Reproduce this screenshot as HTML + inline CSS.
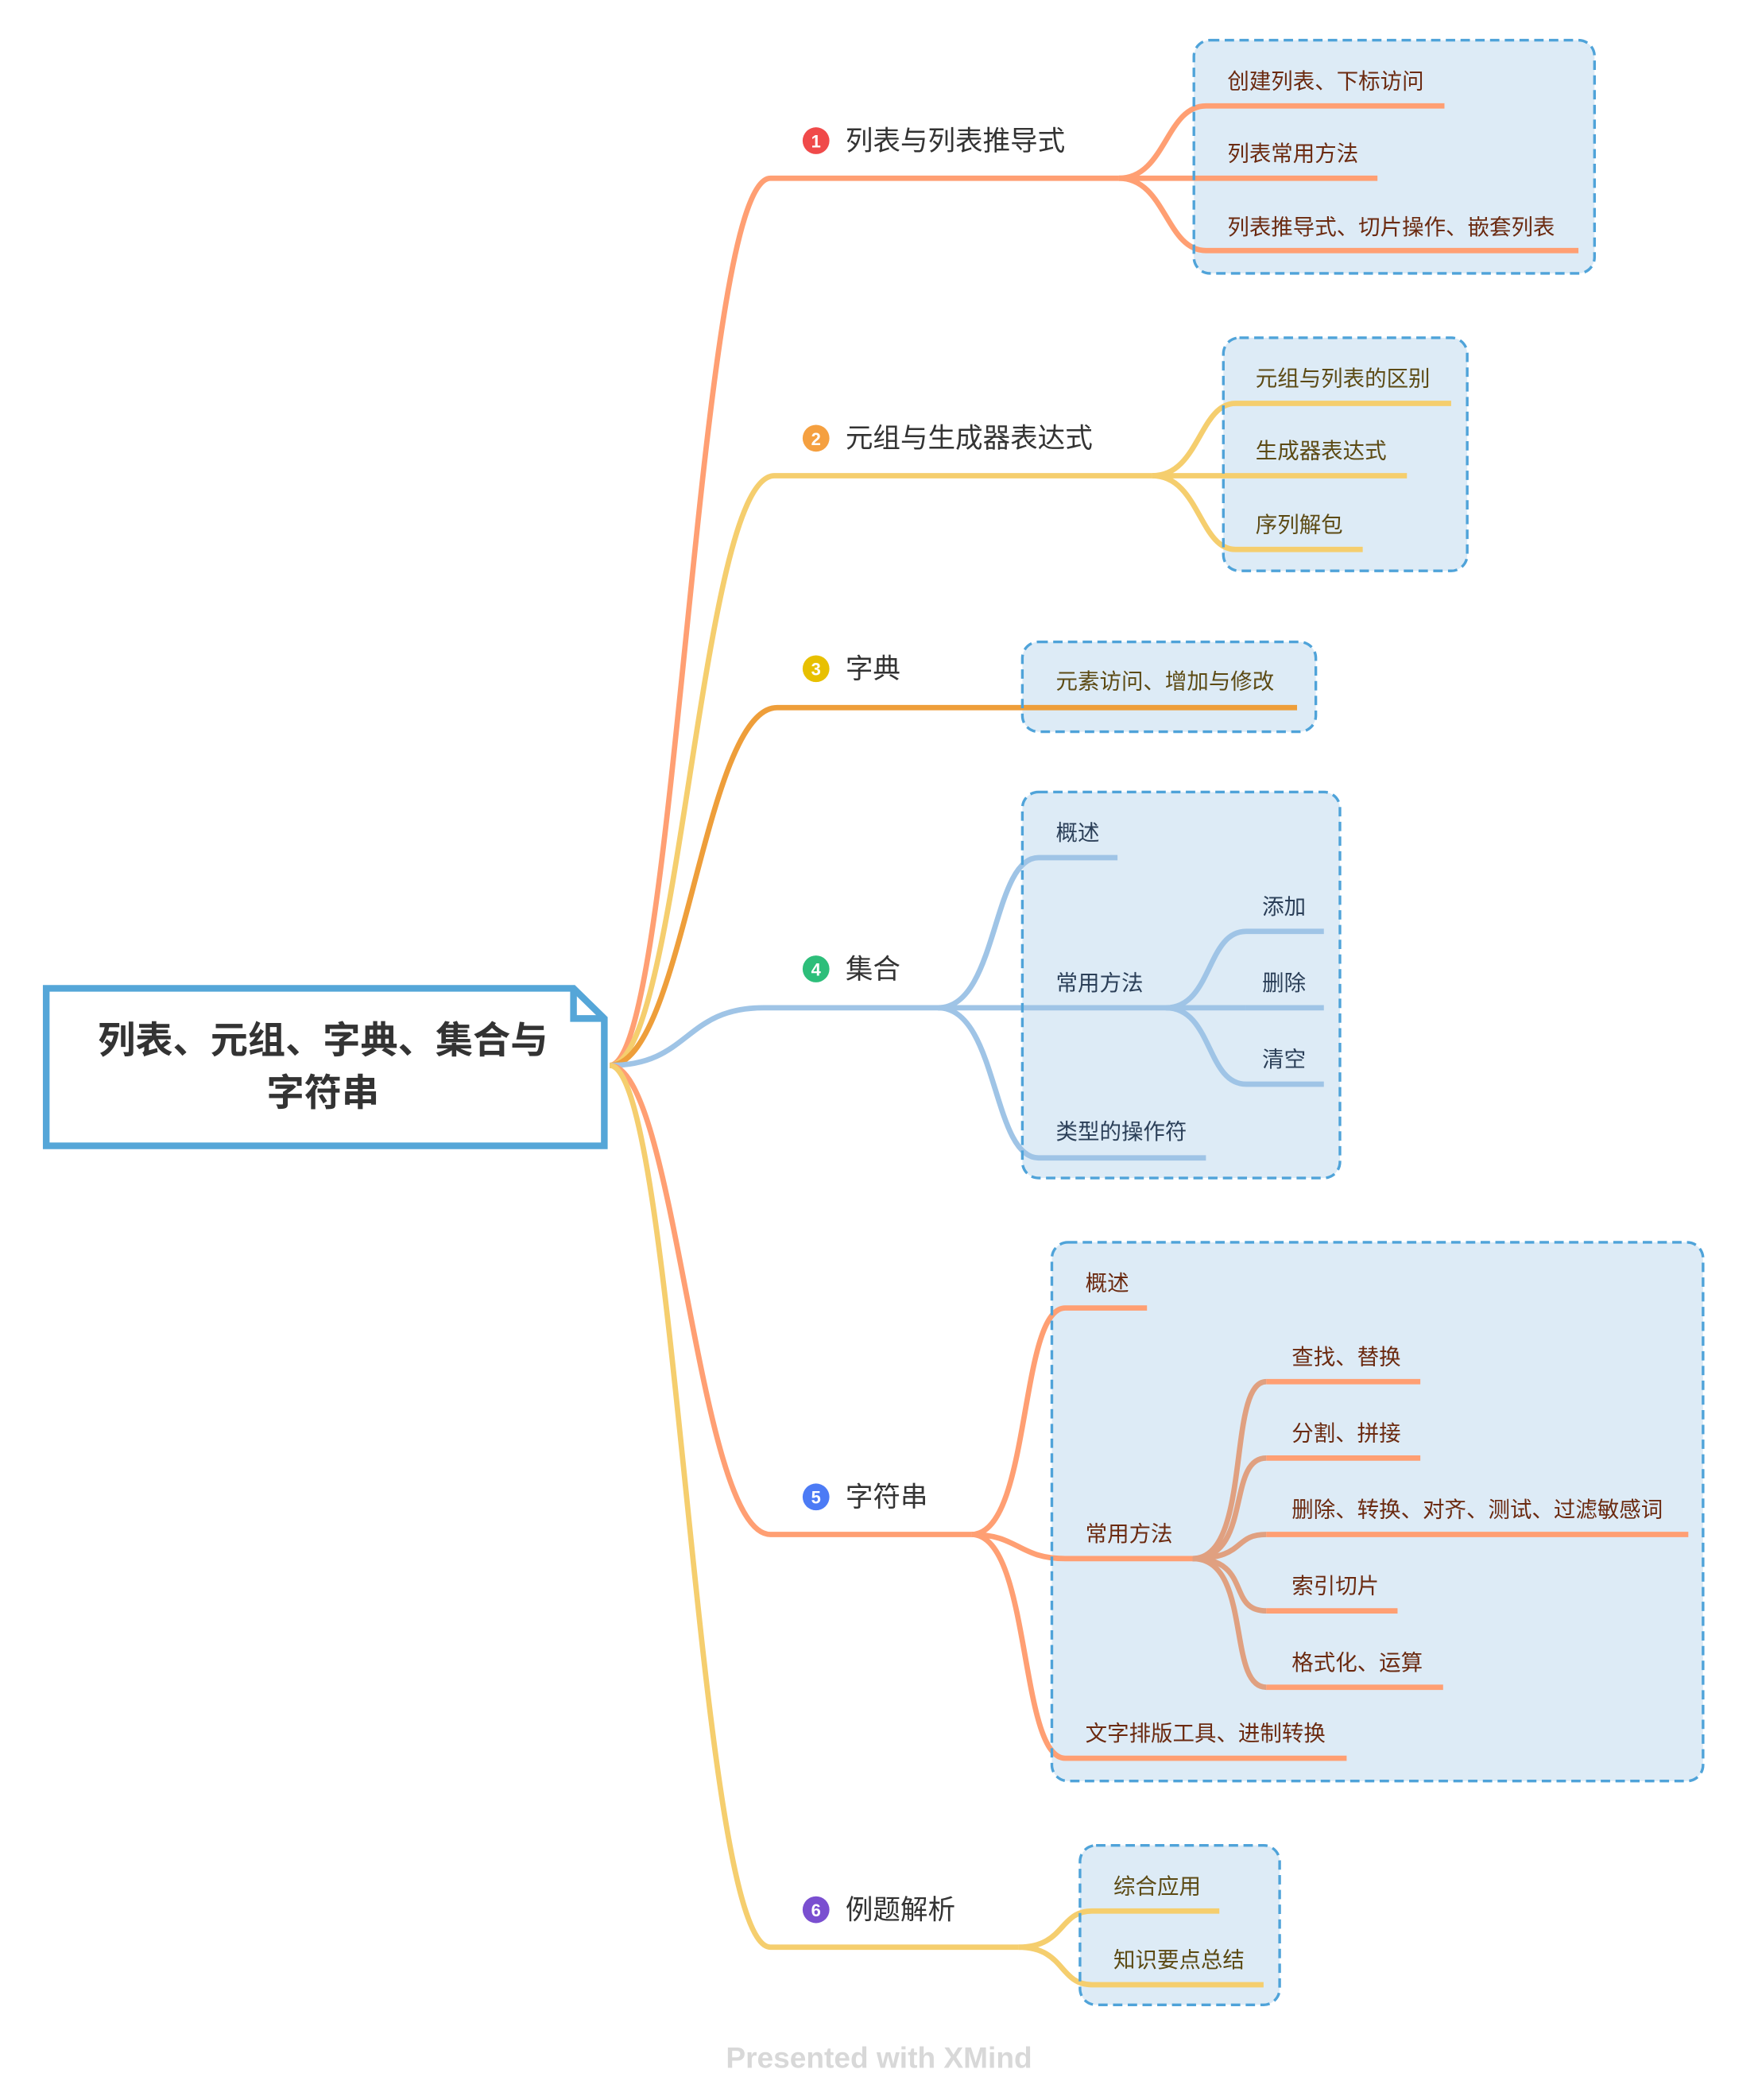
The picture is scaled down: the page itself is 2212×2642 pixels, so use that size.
<!DOCTYPE html>
<html><head><meta charset="utf-8">
<style>
html,body{margin:0;padding:0;background:#fff;}
svg{display:block;}
text{font-family:"Liberation Sans","Noto Sans CJK SC",sans-serif;}
</style></head>
<body>
<svg width="2212" height="2642" viewBox="0 0 1312 1567" preserveAspectRatio="none" xmlns="http://www.w3.org/2000/svg">
<rect width="1312" height="1567" fill="#fff"/>
<g fill="#DDEBF6">
<rect x="891" y="30" width="299" height="174" rx="12"/>
<rect x="913" y="252" width="182" height="174" rx="12"/>
<rect x="763" y="479" width="219" height="67" rx="12"/>
<rect x="763" y="591" width="237" height="288" rx="12"/>
<rect x="785" y="927" width="486" height="402" rx="12"/>
<rect x="806" y="1377" width="149" height="119" rx="12"/>
</g>
<g fill="none" stroke-width="4" stroke-linecap="butt">
<path d="M455,795 C505,795 520,133 575,133 L835,133" stroke="#FF9F73"/>
<path d="M455,795 C508,795 522,355 578,355 L860,355" stroke="#F5CE6E"/>
<path d="M455,795 C510,795 525,528 580,528 L968,528" stroke="#EE9E3A"/>
<path d="M455,795 C515,795 510,752 570,752 L700,752" stroke="#9FC4E6"/>
<path d="M455,795 C505,795 520,1145 575,1145 L725,1145" stroke="#FF9F73"/>
<path d="M455,795 C505,795 520,1453 575,1453 L760,1453" stroke="#F5CE6E"/>
<g stroke="#FF9F73">
<path d="M835,133 C870,133 870,79 900,79 L1078,79"/>
<path d="M835,133 L1028,133"/>
<path d="M835,133 C870,133 870,187 900,187 L1178,187"/>
</g>
<g stroke="#F5CE6E">
<path d="M860,355 C895,355 895,301 922,301 L1083,301"/>
<path d="M860,355 L1050,355"/>
<path d="M860,355 C895,355 895,410 922,410 L1017,410"/>
</g>
<g stroke="#9FC4E6">
<path d="M700,752 C745,752 740,640 775,640 L834,640"/>
<path d="M700,752 L930,752"/>
<path d="M700,752 C745,752 740,864 775,864 L900,864"/>
<path d="M870,752 C905,752 900,695 930,695 L988,695"/>
<path d="M930,752 L988,752"/>
<path d="M870,752 C905,752 900,809 930,809 L988,809"/>
</g>
<g stroke="#FF9F73">
<path d="M725,1145 C770,1145 760,976 795,976 L856,976"/>
<path d="M725,1145 C760,1145 760,1163 795,1163 L890,1163"/>
<path d="M725,1145 C770,1145 760,1312 795,1312 L1005,1312"/>
</g>
<g stroke="#E0A080">
<path d="M890,1163 C935,1163 915,1031 945,1031"/>
<path d="M890,1163 C935,1163 915,1088 945,1088"/>
<path d="M890,1163 C930,1163 920,1145 945,1145"/>
<path d="M890,1163 C935,1163 915,1202 945,1202"/>
<path d="M890,1163 C935,1163 915,1259 945,1259"/>
</g>
<g stroke="#FF9F73">
<path d="M945,1031 L1060,1031"/>
<path d="M945,1088 L1060,1088"/>
<path d="M945,1145 L1260,1145"/>
<path d="M945,1202 L1043,1202"/>
<path d="M945,1259 L1077,1259"/>
</g>
<g stroke="#F5CE6E">
<path d="M760,1453 C795,1453 790,1426 815,1426 L910,1426"/>
<path d="M760,1453 C795,1453 790,1481 815,1481 L943,1481"/>
</g>
</g>
<g fill="none" stroke="#4FA3D9" stroke-width="2" stroke-dasharray="7,4">
<rect x="891" y="30" width="299" height="174" rx="12"/>
<rect x="913" y="252" width="182" height="174" rx="12"/>
<rect x="763" y="479" width="219" height="67" rx="12"/>
<rect x="763" y="591" width="237" height="288" rx="12"/>
<rect x="785" y="927" width="486" height="402" rx="12"/>
<rect x="806" y="1377" width="149" height="119" rx="12"/>
</g>
<path d="M34.5,737.5 L428,737.5 L451,760 L451,855 L34.5,855 Z" fill="#fff" stroke="#55A6D8" stroke-width="5"/>
<path d="M428,737.5 L428,760 L451,760" fill="none" stroke="#55A6D8" stroke-width="5"/>
<g font-weight="bold" font-size="28" fill="#333" text-anchor="middle">
<text x="241" y="786">列表、元组、字典、集合与</text>
<text x="241" y="825">字符串</text>
</g>
<g text-anchor="middle" font-size="13" font-weight="bold" fill="#fff">
<circle cx="609" cy="105" r="10" fill="#F04A4A"/><text x="609" y="110">1</text>
<circle cx="609" cy="327" r="10" fill="#F5A040"/><text x="609" y="332">2</text>
<circle cx="609" cy="499" r="10" fill="#E8C000"/><text x="609" y="504">3</text>
<circle cx="609" cy="723" r="10" fill="#2DBE7A"/><text x="609" y="728">4</text>
<circle cx="609" cy="1117" r="10" fill="#4C7BF5"/><text x="609" y="1122">5</text>
<circle cx="609" cy="1425" r="10" fill="#7A4FD0"/><text x="609" y="1430">6</text>
</g>
<g font-size="20.5" fill="#333">
<text x="631" y="112">列表与列表推导式</text>
<text x="631" y="334">元组与生成器表达式</text>
<text x="631" y="506">字典</text>
<text x="631" y="730">集合</text>
<text x="631" y="1124">字符串</text>
<text x="631" y="1432">例题解析</text>
</g>
<g font-size="16.3" fill="#6B2A10">
<text x="916" y="66">创建列表、下标访问</text>
<text x="916" y="120">列表常用方法</text>
<text x="916" y="175">列表推导式、切片操作、嵌套列表</text>
<text x="810" y="963">概述</text>
<text x="810" y="1150">常用方法</text>
<text x="810" y="1299">文字排版工具、进制转换</text>
<text x="964" y="1018">查找、替换</text>
<text x="964" y="1075">分割、拼接</text>
<text x="964" y="1132">删除、转换、对齐、测试、过滤敏感词</text>
<text x="964" y="1189">索引切片</text>
<text x="964" y="1246">格式化、运算</text>
</g>
<g font-size="16.3" fill="#5C4A14">
<text x="937" y="288">元组与列表的区别</text>
<text x="937" y="342">生成器表达式</text>
<text x="937" y="397">序列解包</text>
<text x="788" y="514">元素访问、增加与修改</text>
<text x="831" y="1413">综合应用</text>
<text x="831" y="1468">知识要点总结</text>
</g>
<g font-size="16.3" fill="#2B3F58">
<text x="788" y="627">概述</text>
<text x="788" y="739">常用方法</text>
<text x="788" y="850">类型的操作符</text>
<text x="942" y="682">添加</text>
<text x="942" y="739">删除</text>
<text x="942" y="796">清空</text>
</g>
<text x="656" y="1543" text-anchor="middle" font-size="22" font-weight="bold" fill="#D8D8D8">Presented with XMind</text>
</svg>
</body></html>
